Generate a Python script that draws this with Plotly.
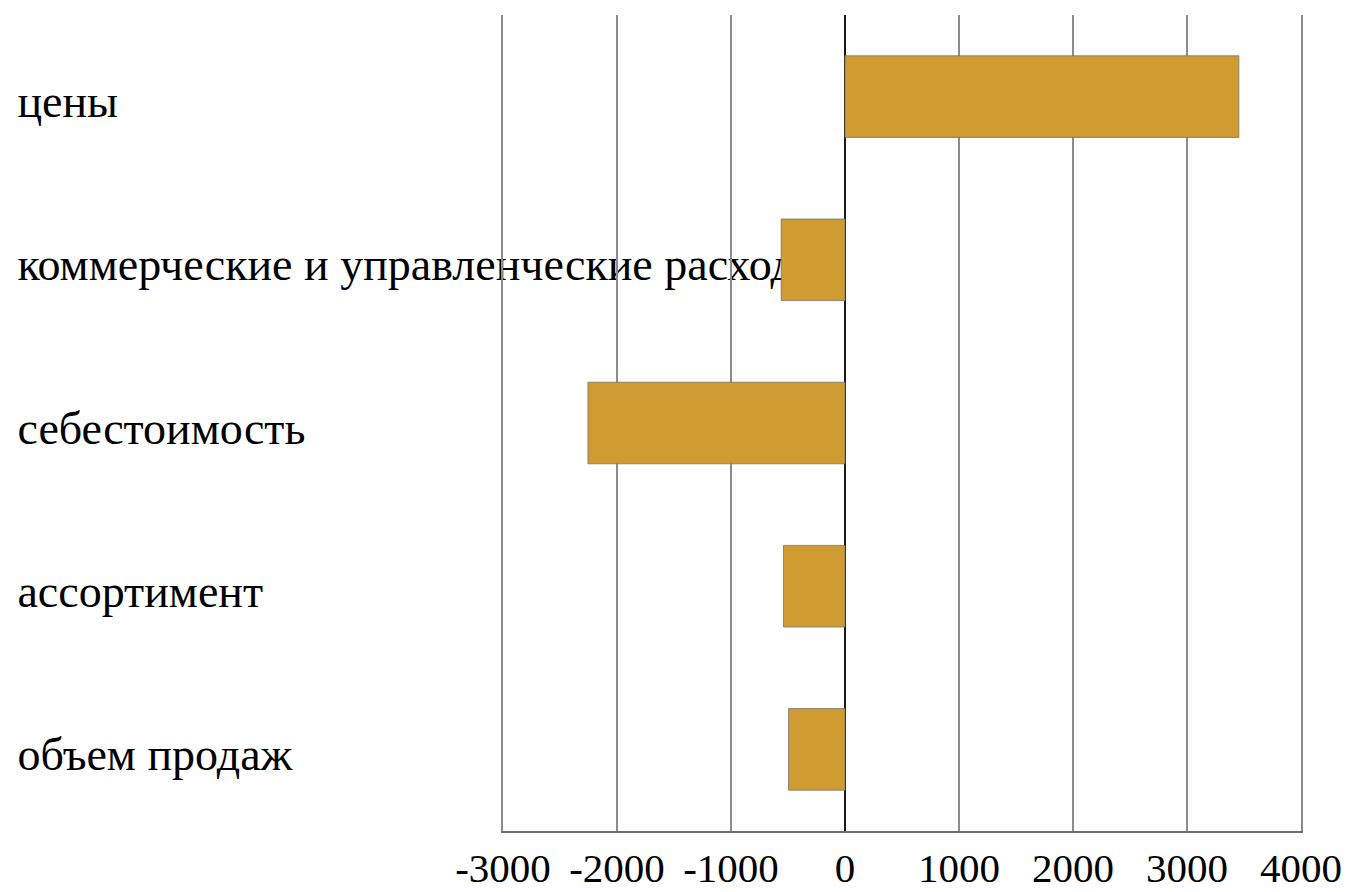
import plotly.graph_objects as go

categories = ["объем продаж", "ассортимент", "себестоимость",
              "коммерческие и управленческие расходы", "цены"]
values = [-495, -540, -2255, -560, 3455]
x_tick_values = [-3000, -2000, -1000, 0, 1000, 2000, 3000, 4000]
x_tick_labels = ["-3000", "-2000", "-1000", "0", "1000", "2000", "3000", "4000"]

FONT = "Liberation Serif"

fig = go.Figure(
    go.Bar(
        y=categories,
        x=values,
        orientation="h",
        width=0.5,
        marker=dict(color="#D09C31",
                    line=dict(color="rgba(110,110,110,0.75)", width=1)),
        showlegend=False,
    )
)

# Category labels drawn beneath the bars (left aligned, like the original)
for cat in categories:
    fig.add_shape(
        type="line", xref="paper", yref="y",
        x0=-0.6085, x1=0, y0=cat, y1=cat,
        line=dict(width=0, color="rgba(0,0,0,0)"),
        layer="below",
        label=dict(text=cat, textposition="start", xanchor="left",
                   yanchor="middle", padding=0,
                   font=dict(family=FONT, size=46, color="#000000")),
    )

fig.update_layout(
    width=1344, height=884,
    margin=dict(l=495, r=51, t=7, b=61, autoexpand=False),
    paper_bgcolor="white",
    plot_bgcolor="rgba(0,0,0,0)",
    font=dict(family=FONT, color="#000000"),
    bargap=0.5,
)
fig.update_xaxes(
    range=[-3000, 4000], automargin=False,
    tickmode="array", tickvals=x_tick_values, ticktext=x_tick_labels,
    showgrid=True, gridcolor="#8C8C8C", gridwidth=2,
    zeroline=True, zerolinecolor="#1A1A1A", zerolinewidth=2,
    showline=True, linecolor="#6E6E6E", linewidth=2,
    ticks="", 
    tickfont=dict(family=FONT, size=41, color="#000000"),
    fixedrange=True,
)
fig.update_yaxes(
    showticklabels=False, showgrid=False, zeroline=False,
    showline=True, mirror=True, linecolor="#8C8C8C", linewidth=2,
    automargin=False,
    range=[-0.5, 4.5], fixedrange=True,
)

fig.write_html("out.html")
